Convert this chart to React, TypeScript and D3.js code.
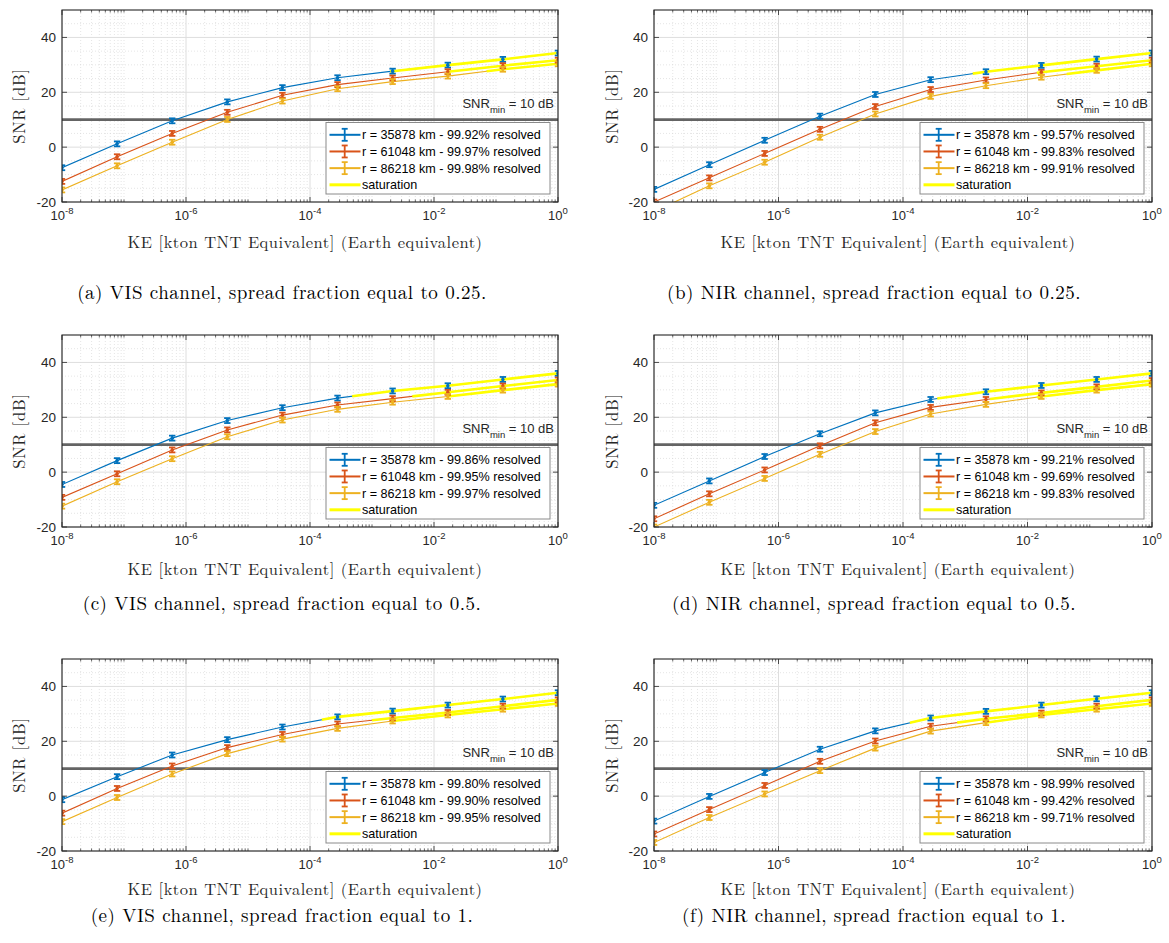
import React from "react";
import * as d3 from "d3";

// ---------- data ----------
const KE = [1e-8, 7.74e-8, 5.99e-7, 4.64e-6, 3.59e-5, 2.78e-4, 2.15e-3, 1.67e-2, 1.29e-1, 1];
const radii = [35878, 61048, 86218];
const xTickExps = [-8, -6, -4, -2, 0];
const yTicks = [-20, 0, 20, 40];
const snrMin = 10;
const errHalf = 0.9;

// (a) VIS 0.25
const visA_r1 = [-7.5, 1.2, 9.6, 16.5, 21.7, 25.3, 27.7, 29.9, 32.0, 34.3];
const visA_r2 = [-12.5, -3.5, 5.0, 12.7, 18.9, 22.8, 25.2, 27.5, 29.7, 31.7];
const visA_r3 = [-15.6, -6.8, 1.8, 10.1, 16.8, 21.3, 23.9, 25.9, 28.4, 30.4];
// (b) NIR 0.25
const nirB_r1 = [-15.4, -6.4, 2.5, 11.3, 19.2, 24.6, 27.5, 29.8, 32.1, 34.3];
const nirB_r2 = [-20.0, -11.2, -2.3, 6.5, 14.8, 21.0, 24.5, 27.3, 29.5, 31.7];
const nirB_r3 = [-23.5, -14.1, -5.5, 3.6, 12.1, 18.5, 22.4, 25.5, 28.0, 30.4];
// (c) VIS 0.5
const visC_r1 = [-4.5, 4.2, 12.4, 18.8, 23.5, 27.0, 29.6, 31.5, 33.8, 36.0];
const visC_r2 = [-9.2, -0.6, 8.1, 15.4, 20.8, 24.5, 26.8, 29.1, 31.4, 33.6];
const visC_r3 = [-12.4, -3.5, 4.9, 12.9, 19.0, 22.9, 25.5, 27.6, 29.9, 32.1];
// (d) NIR 0.5
const nirD_r1 = [-12.1, -3.2, 5.7, 14.0, 21.6, 26.5, 29.3, 31.6, 33.8, 36.0];
const nirD_r2 = [-17.0, -7.9, 0.8, 9.6, 18.0, 23.6, 26.5, 28.9, 31.1, 33.4];
const nirD_r3 = [-20.0, -11.0, -2.3, 6.5, 14.8, 21.2, 24.7, 27.6, 29.9, 32.1];
// (e) VIS 1
const visE_r1 = [-1.3, 7.1, 15.0, 20.6, 25.2, 28.9, 31.0, 33.2, 35.4, 37.7];
const visE_r2 = [-6.2, 2.8, 11.0, 17.7, 22.5, 26.3, 28.5, 30.5, 32.8, 35.1];
const visE_r3 = [-9.3, -0.5, 8.1, 15.5, 20.8, 24.7, 27.4, 29.6, 31.7, 33.8];
// (f) NIR 1
const nirF_r1 = [-9.1, -0.1, 8.6, 17.1, 23.8, 28.5, 30.9, 33.2, 35.5, 37.7];
const nirF_r2 = [-13.8, -4.9, 3.9, 12.7, 20.1, 25.5, 28.2, 30.3, 32.8, 35.1];
const nirF_r3 = [-16.9, -7.8, 0.8, 9.3, 17.5, 23.7, 26.8, 29.6, 31.7, 33.8];

// saturation start (log10 KE) per series
const satA = [-2.71, -1.8, -1.15];
const satB = [-2.88, -1.85, -1.37];
const satC = [-3.32, -2.35, -1.79];
const satD = [-3.45, -2.6, -1.85];
const satE = [-3.81, -3.0, -2.71];
const satF = [-3.89, -3.13, -2.65];

// resolved percentages
const resA = ["99.92", "99.97", "99.98"];
const resB = ["99.57", "99.83", "99.91"];
const resC = ["99.86", "99.95", "99.97"];
const resD = ["99.21", "99.69", "99.83"];
const resE = ["99.80", "99.90", "99.95"];
const resF = ["98.99", "99.42", "99.71"];

const captions = [
  "(a) VIS channel, spread fraction equal to 0.25.",
  "(b) NIR channel, spread fraction equal to 0.25.",
  "(c) VIS channel, spread fraction equal to 0.5.",
  "(d) NIR channel, spread fraction equal to 0.5.",
  "(e) VIS channel, spread fraction equal to 1.",
  "(f) NIR channel, spread fraction equal to 1.",
];

const colors = ["#0072BD", "#D95319", "#EDB120"];
const satColor = "#FFFF00";

const panels = [
  { series: [visA_r1, visA_r2, visA_r3], sat: satA, res: resA },
  { series: [nirB_r1, nirB_r2, nirB_r3], sat: satB, res: resB },
  { series: [visC_r1, visC_r2, visC_r3], sat: satC, res: resC },
  { series: [nirD_r1, nirD_r2, nirD_r3], sat: satD, res: resD },
  { series: [visE_r1, visE_r2, visE_r3], sat: satE, res: resE },
  { series: [nirF_r1, nirF_r2, nirF_r3], sat: satF, res: resF },
];

// ---------- layout ----------
const colLeft = [62, 654];
const colWidth = [496, 498];
const colYLabelX = [19, 612];
const rowTop = [10, 335, 659];
const plotH = 192;
const rowXLabelY = [242, 569, 889];
const rowCaptionY = [292, 603, 915];

const sans = "'Liberation Sans', Arial, Helvetica, sans-serif";
const serif = "'Latin Modern Roman', 'CMU Serif', 'Liberation Serif', 'Times New Roman', serif";

function Panel({ idx }: { idx: number }) {
  const col = idx % 2;
  const row = Math.floor(idx / 2);
  const p = panels[idx];
  const L = colLeft[col];
  const W = colWidth[col];
  const T = rowTop[row];
  const H = plotH;
  const x = d3.scaleLog().domain([1e-8, 1]).range([L, L + W]);
  const y = d3.scaleLinear().domain([-20, 50]).range([T + H, T]);
  const clipId = `clip${idx}`;

  const minorX: number[] = [];
  for (let k = -8; k < 0; k++) {
    for (let m = 1; m <= 9; m++) {
      if (m === 1 && k % 2 === 0) continue;
      minorX.push(m * Math.pow(10, k));
    }
  }
  const minorY: number[] = [];
  for (let v = -15; v < 50; v += 5) if (v % 20 !== 0) minorY.push(v);

  const line = d3
    .line<[number, number]>()
    .x((d) => x(d[0]))
    .y((d) => y(d[1]));

  const satPath = (vals: number[], s: number) => {
    const lk = KE.map((k) => Math.log10(k));
    let i = 0;
    while (i < lk.length - 2 && lk[i + 1] <= s) i++;
    const t = (s - lk[i]) / (lk[i + 1] - lk[i]);
    const pts: [number, number][] = [[Math.pow(10, s), vals[i] + t * (vals[i + 1] - vals[i])]];
    for (let j = i + 1; j < KE.length; j++) pts.push([KE[j], vals[j]]);
    return line(pts) || "";
  };

  const legW = 224;
  const legH = 71.5;
  const legX = L + W - 8 - legW;
  const legY = T + H - 8 - legH;
  const rowH = 16.67;

  return (
    <g>
      <defs>
        <clipPath id={clipId}>
          <rect x={L} y={T} width={W} height={H} />
        </clipPath>
      </defs>
      <rect x={L} y={T} width={W} height={H} fill="#ffffff" />
      {/* minor grid */}
      {minorX.map((v, i) => (
        <line key={"mx" + i} x1={x(v)} x2={x(v)} y1={T} y2={T + H} stroke="#d4d4d4" strokeWidth={0.6} strokeDasharray="1,2" />
      ))}
      {minorY.map((v, i) => (
        <line key={"my" + i} x1={L} x2={L + W} y1={y(v)} y2={y(v)} stroke="#d4d4d4" strokeWidth={0.6} strokeDasharray="1,2" />
      ))}
      {/* major grid */}
      {xTickExps.map((e) => (
        <line key={"gx" + e} x1={x(Math.pow(10, e))} x2={x(Math.pow(10, e))} y1={T} y2={T + H} stroke="#dedede" strokeWidth={1} />
      ))}
      {yTicks.map((v) => (
        <line key={"gy" + v} x1={L} x2={L + W} y1={y(v)} y2={y(v)} stroke="#dedede" strokeWidth={1} />
      ))}
      <g clipPath={`url(#${clipId})`}>
        {/* threshold */}
        <line x1={L} x2={L + W} y1={y(snrMin)} y2={y(snrMin)} stroke="#646464" strokeWidth={2.8} />
        {p.series.map((vals, si) => (
          <path key={"s" + si} d={line(vals.map((v, i) => [KE[i], v] as [number, number])) || ""} fill="none" stroke={colors[si]} strokeWidth={1.1} />
        ))}
        {p.series.map((vals, si) => (
          <path key={"sat" + si} d={satPath(vals, p.sat[si])} fill="none" stroke={satColor} strokeWidth={2.6} />
        ))}
        {p.series.map((vals, si) =>
          vals.map((v, i) => {
            const cx = x(KE[i]);
            const y1 = y(v + errHalf);
            const y2 = y(v - errHalf);
            return (
              <g key={"e" + si + "_" + i} stroke={colors[si]} strokeWidth={1.8}>
                <line x1={cx} x2={cx} y1={y1} y2={y2} />
                <line x1={cx - 3.2} x2={cx + 3.2} y1={y1} y2={y1} />
                <line x1={cx - 3.2} x2={cx + 3.2} y1={y2} y2={y2} />
                <circle cx={cx} cy={y(v)} r={1.8} fill={colors[si]} stroke="none" />
              </g>
            );
          })
        )}
      </g>
      {/* ticks */}
      {minorX.map((v, i) => (
        <g key={"mt" + i} stroke="#262626" strokeWidth={0.7}>
          <line x1={x(v)} x2={x(v)} y1={T + H} y2={T + H - 2.5} />
          <line x1={x(v)} x2={x(v)} y1={T} y2={T + 2.5} />
        </g>
      ))}
      {xTickExps.map((e) => (
        <g key={"xt" + e} stroke="#262626" strokeWidth={0.8}>
          <line x1={x(Math.pow(10, e))} x2={x(Math.pow(10, e))} y1={T + H} y2={T + H - 5} />
          <line x1={x(Math.pow(10, e))} x2={x(Math.pow(10, e))} y1={T} y2={T + 5} />
        </g>
      ))}
      {yTicks.map((v) => (
        <g key={"yt" + v} stroke="#262626" strokeWidth={0.8}>
          <line x1={L} x2={L + 5} y1={y(v)} y2={y(v)} />
          <line x1={L + W} x2={L + W - 5} y1={y(v)} y2={y(v)} />
        </g>
      ))}
      <rect x={L} y={T} width={W} height={H} fill="none" stroke="#262626" strokeWidth={1.1} />
      {/* tick labels */}
      {yTicks.map((v) => (
        <text key={"yl" + v} x={L - 6} y={y(v)} dy="0.36em" textAnchor="end" fontFamily={sans} fontSize={13.5} fill="#262626">
          {v}
        </text>
      ))}
      {xTickExps.map((e) => (
        <text key={"xl" + e} x={x(Math.pow(10, e))} y={T + H + 18} textAnchor="middle" fontFamily={sans} fontSize={13} fill="#262626">
          <tspan>10</tspan>
          <tspan dy={-6} fontSize={9.5}>{e}</tspan>
        </text>
      ))}
      {/* SNR_min label */}
      <text x={L + W - 4} y={T + 98} textAnchor="end" fontFamily={sans} fontSize={13} fill="#262626">
        <tspan>SNR</tspan>
        <tspan dy={5} fontSize={9.5}>min</tspan>
        <tspan dy={-5}> = 10 dB</tspan>
      </text>
      {/* legend */}
      <rect x={legX} y={legY} width={legW} height={legH} fill="#ffffff" stroke="#8a8a8a" strokeWidth={1} />
      {p.series.map((_, si) => {
        const cy = legY + 12.3 + si * rowH;
        const mx = legX + 18.7;
        return (
          <g key={"lg" + si}>
            <line x1={legX + 3.5} x2={legX + 34.5} y1={cy} y2={cy} stroke={colors[si]} strokeWidth={2} />
            <g stroke={colors[si]} strokeWidth={1.8}>
              <line x1={mx} x2={mx} y1={cy - 6} y2={cy + 6} />
              <line x1={mx - 3} x2={mx + 3} y1={cy - 6} y2={cy - 6} />
              <line x1={mx - 3} x2={mx + 3} y1={cy + 6} y2={cy + 6} />
            </g>
            <text x={legX + 36} y={cy} dy="0.36em" fontFamily={sans} fontSize={12.6} fill="#000">
              {`r = ${radii[si]} km - ${p.res[si]}% resolved`}
            </text>
          </g>
        );
      })}
      <g>
        <line x1={legX + 3.5} x2={legX + 34.5} y1={legY + 12.3 + 3 * rowH} y2={legY + 12.3 + 3 * rowH} stroke={satColor} strokeWidth={3} />
        <text x={legX + 36} y={legY + 12.3 + 3 * rowH} dy="0.36em" fontFamily={sans} fontSize={12.6} fill="#000">
          saturation
        </text>
      </g>
      {/* axis labels */}
      <text transform={`translate(${colYLabelX[col]},${T + H / 2}) rotate(-90)`} textAnchor="middle" dy="0.35em" fontFamily={serif} fontSize={16.5} letterSpacing={0.8} fill="#262626">
        SNR [dB]
      </text>
      <text x={L + W / 2 - 5} y={rowXLabelY[row]} dy="0.35em" textAnchor="middle" fontFamily={serif} fontSize={16.5} letterSpacing={0.5} fill="#262626">
        KE [kton TNT Equivalent] (Earth equivalent)
      </text>
      <text x={col === 0 ? 282 : 874} y={rowCaptionY[row]} dy="0.35em" textAnchor="middle" fontFamily={serif} fontSize={19} letterSpacing={0.5} fill="#000">
        {captions[idx]}
      </text>
    </g>
  );
}

export default function App() {
  return (
    <svg width={1169} height={943} viewBox="0 0 1169 943" style={{ position: "absolute", left: 0, top: 0, background: "#fff" }}>
      <rect width={1169} height={943} fill="#fff" />
      {panels.map((_, i) => (
        <Panel key={i} idx={i} />
      ))}
    </svg>
  );
}
